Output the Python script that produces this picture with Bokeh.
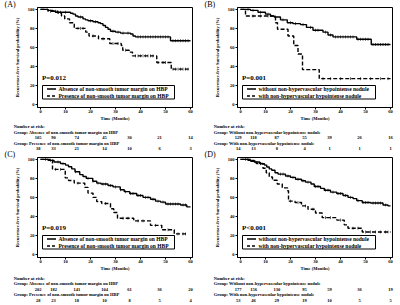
import numpy as np
from bokeh.plotting import figure
from bokeh.layouts import column, row
from bokeh.models import Label, BoxAnnotation, Arrow, FixedTicker, Range1d
from bokeh.embed import file_html
from bokeh.resources import INLINE

FONT = "Liberation Serif"
MONTH_TICKS = [0, 10, 20, 30, 40, 50, 60]
PCT_TICKS = [0, 20, 40, 60, 80, 100]

# ---------------- Panel A ----------------
a_solid_t = [0, 3, 5, 6, 12, 13, 14, 15, 17, 18, 19, 21, 23, 24, 25, 26, 27, 28, 30, 32, 36, 37, 38, 52, 60]
a_solid_s = [100, 99, 98, 97, 96, 95, 93, 92, 90, 89, 88, 87, 86, 85, 83, 81, 79, 77, 76, 75, 74, 72, 71, 67, 67]
a_solid_c = [8, 10, 16, 20, 22, 29, 31, 33, 35, 39, 40, 41, 42, 43, 44, 45, 46, 47, 48, 49, 50, 51, 53, 54, 55, 56, 57, 58, 59]
a_dash_t = [0, 3, 7, 8.4, 9.7, 11.6, 13.5, 18.1, 19.4, 23.2, 27.7, 32.3, 32.9, 35.5, 36.8, 46.5, 52.3, 60]
a_dash_s = [100, 98, 96, 93, 90, 86, 80, 76, 72, 69, 64, 62, 57, 55, 51, 44, 37, 37]
a_dash_c = [4, 6, 15, 16, 17, 21, 25, 29, 31, 34, 38, 39, 40, 41, 42, 43, 44, 45, 47, 49, 50, 53, 54, 55, 56, 57, 58, 59]
a_nar1 = [105, 90, 74, 45, 30, 21, 14]
a_nar2 = [38, 33, 21, 14, 10, 6, 3]

# ---------------- Panel B ----------------
b_solid_t = [0, 4, 7, 10, 12, 13.5, 16, 18.7, 21, 24, 26.4, 29, 33, 35, 37, 46.5, 52.3, 60]
b_solid_s = [100, 99, 97, 95, 93, 92, 89, 86, 85, 84, 81, 78, 76, 73, 71, 68.5, 63, 63]
b_solid_c = [3, 5, 8, 11, 14, 17, 20, 22, 25, 28, 30, 31, 34, 36, 38, 39, 40, 41, 42, 43, 44, 45, 47, 48, 49, 50, 51, 53, 54, 55, 56, 57, 58, 59]
b_dash_t = [0, 2, 14, 14.8, 19, 21.3, 23, 24.8, 31.5, 60]
b_dash_s = [100, 93, 86, 79, 72, 62, 53, 36.5, 27, 27]
b_dash_c = [5, 8, 11, 33, 36, 40, 44, 48, 52, 56, 59]
b_nar1 = [129, 118, 87, 55, 39, 26, 16]
b_nar2 = [14, 13, 8, 4, 1, 1, 1]

# ---------------- Panel C ----------------
c_solid_t = [0, 3, 5.4, 8, 10, 11.2, 12.5, 13.8, 15.7, 17, 18.3, 20.9, 22.5, 24.2, 27, 29, 31.9, 33.5, 35.7, 38.5, 41, 44, 46, 48, 50, 56, 58.5, 60]
c_solid_s = [100, 99, 97.3, 95.5, 94, 92.3, 90, 87, 84, 82, 80, 77, 75, 74, 72.5, 71, 68, 66, 64, 62, 60, 58, 56, 55, 53, 52, 50, 50]
c_solid_c = [2, 4, 7, 9, 14, 19, 21, 23, 25, 26, 28, 30, 32, 34, 36, 37, 39, 40, 42, 43, 45, 47, 49, 51, 52, 53, 54, 55, 57, 58]
c_dash_t = [0, 4.8, 9.9, 11.2, 13.5, 17.7, 19, 21, 22.5, 24.5, 28, 29.3, 30.8, 37.3, 44, 48.5, 53.5, 59]
c_dash_s = [100, 89.5, 80.5, 77.8, 75, 70.5, 64.5, 60, 55.5, 53.5, 48, 44, 38, 35.2, 30.5, 25.8, 21.5, 21.5]
c_dash_c = [6, 8, 15, 26, 33, 35, 39, 41, 46, 51, 55, 57, 58]
c_nar1 = [202, 182, 141, 104, 61, 36, 20]
c_nar2 = [28, 23, 18, 10, 8, 5, 4]

# ---------------- Panel D ----------------
d_solid_t = [0, 3, 5.5, 7.7, 9.6, 10.5, 11.5, 12.5, 13.8, 15, 18, 20, 22, 24.4, 26, 28.2, 29.5, 32, 33.5, 36, 38.5, 41, 43, 45, 46.5, 48.7, 52, 57, 59, 60]
d_solid_s = [100, 99, 97.3, 95.5, 94, 92, 90, 88.5, 86, 84.5, 82.5, 81, 79, 77.5, 76, 74, 71.5, 69.5, 67.5, 65.5, 64, 62, 60, 58.7, 56.5, 54.5, 54, 52, 51, 51]
d_solid_c = [2, 4, 6, 8, 16, 17, 19, 21, 23, 25, 27, 30, 31, 34, 35, 37, 39, 40, 42, 44, 47, 49, 50, 51, 53, 54, 55, 56, 58]
d_dash_t = [0, 4, 6.4, 9, 10.3, 11.5, 12.8, 14.7, 16.7, 18.8, 19.2, 21.8, 24.4, 27, 30, 32.7, 38.5, 41.5, 43, 48.7, 60]
d_dash_s = [100, 98, 95.7, 90.6, 86, 81.5, 78, 74, 70, 67, 56, 54.5, 51, 47.5, 43.5, 38.6, 36, 31, 27.5, 23.5, 23.5]
d_dash_c = [3, 8, 20, 23, 26, 29, 34, 36, 40, 45, 47, 50, 52, 54, 56, 58, 59]
d_nar1 = [177, 156, 130, 95, 59, 36, 19]
d_nar2 = [53, 46, 29, 19, 10, 5, 5]

# ---------------- Layout constants (screen px) ----------------
NAR_X = [37.7, 53, 76.3, 104, 129, 159, 190]   # centres of at-risk numbers
TEXT_X = 13.3                                   # left of table texts


def step_value(ts, ss, tc):
    ts = np.asarray(ts, dtype=float)
    ss = np.asarray(ss, dtype=float)
    idx = np.searchsorted(ts, np.asarray(tc, dtype=float), side="right") - 1
    return ss[np.clip(idx, 0, len(ss) - 1)]


def mk_label(x, y, text, size, style="bold", align="left"):
    return Label(x=x, y=y, x_units="screen", y_units="screen", text=text,
                 text_font=FONT, text_font_size=size, text_font_style=style,
                 text_align=align, text_baseline="middle", text_color="black")


def panel(tag, st, ss, sc, dt, ds, dc, leg1, leg2, pval, box_right):
    p = figure(width=200, height=123, output_backend="svg", toolbar_location=None,
               x_range=Range1d(-1.2, 60.8), y_range=Range1d(-3.4, 102),
               min_border_left=32, min_border_right=8, min_border_top=7,
               min_border_bottom=13, background_fill_color="white",
               border_fill_color="white", frame_align=False)
    p.xgrid.visible = False
    p.ygrid.visible = False
    p.outline_line_color = "black"
    p.outline_line_width = 1
    p.outline_line_alpha = 1

    for ax in (p.xaxis[0], p.yaxis[0]):
        ax.major_label_text_font = FONT
        ax.major_label_text_font_size = "4.5px"
        ax.major_label_text_font_style = "bold"
        ax.major_label_text_color = "black"
        ax.major_tick_in = 0
        ax.major_tick_out = 2
        ax.minor_tick_line_color = None
        ax.axis_line_color = "black"
        ax.major_tick_line_color = "black"
        ax.axis_label_text_font = FONT
        ax.axis_label_text_font_size = "4.5px"
        ax.axis_label_text_font_style = "bold"
        ax.axis_label_text_color = "black"
    p.xaxis.ticker = FixedTicker(ticks=MONTH_TICKS)
    p.yaxis.ticker = FixedTicker(ticks=PCT_TICKS)
    p.xaxis.major_label_standoff = 0
    p.yaxis.major_label_standoff = 1
    p.xaxis.axis_label = "Time (Months)"
    p.xaxis.axis_label_standoff = 0
    p.yaxis.axis_label = "Recurrence-free Survival probability (%)"
    p.yaxis.axis_label_standoff = 5

    p.step(st, ss, mode="after", line_color="black", line_width=1.4)
    p.step(dt, ds, mode="after", line_color="black", line_width=1.4, line_dash="4 2")
    p.scatter(sc, step_value(st, ss, sc), marker="dash", angle=np.pi / 2, size=3,
              line_color="black", line_width=0.6)
    p.scatter(dc, step_value(dt, ds, dc), marker="dash", angle=np.pi / 2, size=3,
              line_color="black", line_width=0.6)

    # panel tag, in the left side panel so that it is not clipped by the frame
    p.add_layout(mk_label(4, 103.3, tag, "8px", style="normal"), "left")
    # p value
    p.add_layout(mk_label(4.5, 29.5, pval, "7px"))
    # legend
    p.add_layout(BoxAnnotation(left=5, right=box_right, bottom=8.5, top=22,
                               left_units="screen", right_units="screen",
                               bottom_units="screen", top_units="screen",
                               fill_alpha=0, line_color="black",
                               line_width=1, line_alpha=1))
    p.add_layout(Arrow(end=None, x_start=9.5, y_start=18.5, x_end=18.5, y_end=18.5,
                       start_units="screen", end_units="screen",
                       line_color="black", line_width=1.4))
    p.add_layout(Arrow(end=None, x_start=9.5, y_start=11.5, x_end=18.5, y_end=11.5,
                       start_units="screen", end_units="screen",
                       line_color="black", line_width=1.4, line_dash="3 2"))
    p.add_layout(mk_label(21, 18.5, leg1, "5.5px"))
    p.add_layout(mk_label(21, 11.5, leg2, "5.5px"))
    return p


def table(grp1, grp2, n1, n2, h, rows):
    t = figure(width=200, height=h, output_backend="svg", toolbar_location=None,
               x_range=Range1d(0, 200), y_range=Range1d(0, h),
               x_axis_type=None, y_axis_type=None,
               min_border_left=0, min_border_right=0, min_border_top=0,
               min_border_bottom=0, background_fill_color="white",
               border_fill_color="white", frame_align=False)
    t.xgrid.visible = False
    t.ygrid.visible = False
    t.outline_line_color = None
    t.add_layout(mk_label(TEXT_X, rows[0], "Number at risk:", "4.5px"))
    t.add_layout(mk_label(TEXT_X, rows[1], grp1, "4.5px"))
    for x, n in zip(NAR_X, n1):
        t.add_layout(mk_label(x, rows[2], str(n), "4.5px", align="center"))
    t.add_layout(mk_label(TEXT_X, rows[3], grp2, "4.5px"))
    for x, n in zip(NAR_X, n2):
        t.add_layout(mk_label(x, rows[4], str(n), "4.5px", align="center"))
    return t


ROWS_TOP = [24.3, 18.5, 13, 7.3, 1.9]
ROWS_BOT = [27.5, 21.8, 16.3, 11, 5.3]

leg_a1 = "Absence of non-smooth tumor margin on HBP"
leg_a2 = "Presence of non-smooth tumor margin on HBP"
leg_b1 = "without non-hypervascular hypointense nodule"
leg_b2 = "with non-hypervascular hypointense nodule"
grp_a1 = "Group: Absence of non-smooth tumor margin on HBP"
grp_a2 = "Group: Presence of non-smooth tumor margin on HBP"
grp_b1 = "Group: Without non-hypervascular hypointense nodule"
grp_b2 = "Group: With non-hypervascular hypointense nodule"

pa = panel("(A)", a_solid_t, a_solid_s, a_solid_c, a_dash_t, a_dash_s, a_dash_c,
           leg_a1, leg_a2, "P=0.012", 137)
pb = panel("(B)", b_solid_t, b_solid_s, b_solid_c, b_dash_t, b_dash_s, b_dash_c,
           leg_b1, leg_b2, "P=0.001", 138)
pc = panel("(C)", c_solid_t, c_solid_s, c_solid_c, c_dash_t, c_dash_s, c_dash_c,
           leg_a1, leg_a2, "P=0.019", 137)
pd_ = panel("(D)", d_solid_t, d_solid_s, d_solid_c, d_dash_t, d_dash_s, d_dash_c,
            leg_b1, leg_b2, "P<0.001", 138)

ta = table(grp_a1, grp_a2, a_nar1, a_nar2, 27, ROWS_TOP)
tb = table(grp_b1, grp_b2, b_nar1, b_nar2, 27, ROWS_TOP)
tc = table(grp_a1, grp_a2, c_nar1, c_nar2, 32, ROWS_BOT)
td = table(grp_b1, grp_b2, d_nar1, d_nar2, 32, ROWS_BOT)

layout = column(
    row(column(pa, ta, spacing=0), column(pb, tb, spacing=0), spacing=0),
    row(column(pc, tc, spacing=0), column(pd_, td, spacing=0), spacing=0),
    spacing=0,
)
open("out.html", "w").write(file_html(layout, INLINE))
